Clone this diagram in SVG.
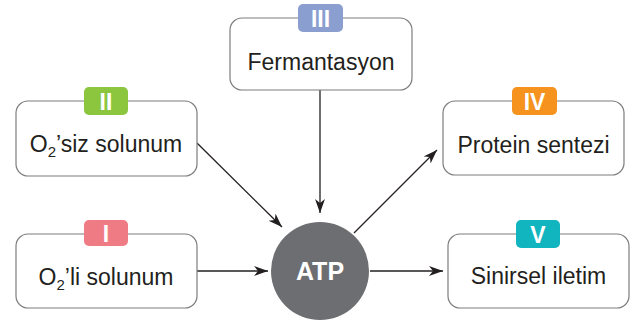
<svg xmlns="http://www.w3.org/2000/svg" width="633" height="324" viewBox="0 0 633 324">
<style>
.box{fill:#fff;stroke:#7d7d7d;stroke-width:1.2}
.lbl{font-family:"Liberation Sans",Arial,sans-serif;font-size:23px;fill:#231f20;text-anchor:middle}
.num{font-family:"Liberation Sans",Arial,sans-serif;font-size:23px;font-weight:bold;fill:#fff;text-anchor:middle}
.con{stroke:#231f20;stroke-width:1.3;fill:none;marker-end:url(#ah)}
</style>
<defs>
<marker id="ah" markerUnits="userSpaceOnUse" markerWidth="16" markerHeight="12" refX="14" refY="5" orient="auto">
<path d="M0,0 L14,5 L0,10 L4,5 z" fill="#231f20"/>
</marker>
</defs>
<g id="connectors">
<line class="con" x1="197" y1="271" x2="268" y2="271"/>
<line class="con" x1="370" y1="271" x2="443" y2="271"/>
<line class="con" x1="320" y1="90" x2="320" y2="213"/>
<line class="con" x1="197" y1="143" x2="282" y2="227"/>
<line class="con" x1="354" y1="233" x2="437" y2="150"/>
</g>
<g id="node-I">
<rect class="box" x="16" y="234" width="181" height="74" rx="12"/>
<rect x="84" y="220" width="44" height="26" rx="5" fill="#ef7b85"/>
<text class="num" x="106" y="241.5">I</text>
<text class="lbl" x="106" y="285">O<tspan font-size="15" dy="5">2</tspan><tspan dy="-5">’li solunum</tspan></text>
</g>
<g id="node-II">
<rect class="box" x="16" y="101" width="181" height="75" rx="12"/>
<rect x="84" y="87" width="44" height="28" rx="5" fill="#8cc63f"/>
<text class="num" x="106" y="109.5">II</text>
<text class="lbl" x="106" y="152">O<tspan font-size="15" dy="5">2</tspan><tspan dy="-5">’siz solunum</tspan></text>
</g>
<g id="node-III">
<rect class="box" x="230" y="18" width="182" height="72" rx="12"/>
<rect x="298" y="4" width="45" height="28" rx="5" fill="#8a9ecf"/>
<text class="num" x="320.5" y="26.5">III</text>
<text class="lbl" x="321" y="70">Fermantasyon</text>
</g>
<g id="node-IV">
<rect class="box" x="443" y="101" width="181" height="74" rx="12"/>
<rect x="512" y="87" width="45" height="28" rx="5" fill="#f6921e"/>
<text class="num" x="534.5" y="109.5">IV</text>
<text class="lbl" x="533.5" y="153">Protein sentezi</text>
</g>
<g id="node-V">
<rect class="box" x="448" y="234" width="181" height="74" rx="12"/>
<rect x="516" y="220" width="44" height="28" rx="5" fill="#10b5bf"/>
<text class="num" x="538" y="242.5">V</text>
<text class="lbl" x="538.5" y="284">Sinirsel iletim</text>
</g>
<g id="node-ATP">
<circle cx="320" cy="271" r="49" fill="#6d6e71"/>
<text class="num" x="320" y="280" style="font-size:25px">ATP</text>
</g>
</svg>
